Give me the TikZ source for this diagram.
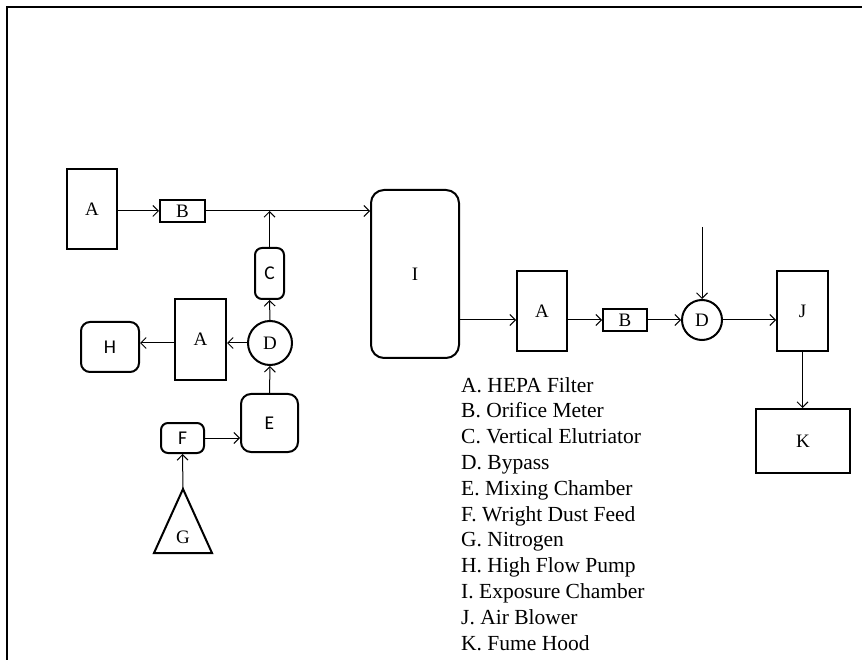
\documentclass[tikz,border=0pt]{standalone}
\usepackage{fontspec}
\setmainfont{Liberation Serif}
\newfontfamily\calfont{Carlito}
\usetikzlibrary{arrows.meta,positioning,calc}

\begin{document}
\begin{tikzpicture}[x=1pt, y=-1pt,
  sqbox/.style={draw, line width=2pt, rectangle, inner sep=0pt, font=\fontsize{19}{20}\selectfont},
  rdbox/.style={draw, line width=2pt, rectangle, rounded corners=7pt, inner sep=0pt, font=\calfont\fontsize{19.5}{21}\selectfont},
  valve/.style={draw, line width=2pt, circle, inner sep=0pt, font=\fontsize{19}{20}\selectfont},
  flow/.style={line width=1pt, -{Straight Barb[length=5.5pt,width=11pt,line width=1pt]}}
]
\useasboundingbox (0,0) rectangle (868,660);
\draw[line width=2.2pt] (7,660) -- (7,7) -- (862,7);

% supply side
\node[sqbox, minimum width=50pt, minimum height=80pt] (filterA1) at (92,209) {A};
\node[sqbox, minimum width=45pt, minimum height=22pt] (meterB1) at (182.5,211) {B};
\node[rdbox, rounded corners=13pt, minimum width=88pt, minimum height=168pt, font=\fontsize{19}{20}\selectfont] (chamberI) at (415,274) {I};
\node[rdbox, minimum width=29pt, minimum height=51pt] (elutC) at (269.5,273.5) {C};
\node[sqbox, minimum width=51pt, minimum height=81pt] (filterA2) at (200.5,339.5) {A};
\node[rdbox, rounded corners=9pt, minimum width=58pt, minimum height=50pt] (pumpH) at (110,347) {H};
\node[valve, minimum size=44pt] (bypassD1) at (270,343) {D};
\node[rdbox, rounded corners=10pt, minimum width=57pt, minimum height=58pt] (mixE) at (269.5,423) {E};
\node[rdbox, minimum width=43pt, minimum height=30pt] (feedF) at (182.5,438) {F};

\coordinate (gasG) at (183,489);
\draw[line width=2pt] (gasG) -- (154,553) -- (212,553) -- cycle;
\node[font=\fontsize{19}{20}\selectfont] (gasGlabel) at (183,537) {G};

% exhaust side
\node[sqbox, minimum width=50pt, minimum height=80pt] (filterA3) at (542,311) {A};
\node[sqbox, minimum width=44pt, minimum height=22pt] (meterB2) at (625,320) {B};
\node[valve, minimum size=40pt] (bypassD2) at (702,320) {D};
\coordinate (bypassIn) at (702,227);
\node[sqbox, minimum width=51pt, minimum height=80pt] (blowerJ) at (802.5,311) {J};
\node[sqbox, minimum width=94pt, minimum height=64pt] (hoodK) at (803,441) {K};

\draw[flow] (filterA1.east |- meterB1.west) -- (meterB1.west);
\draw[flow] (meterB1.east) -- (meterB1.east -| chamberI.west);
\draw[flow] (elutC.north) -- (elutC.north |- meterB1.east);
\draw[flow] (bypassD1.north) -- (elutC.south);
\draw[flow] (bypassD1.west) -- (bypassD1.west -| filterA2.east);
\draw[flow] (filterA2.west |- bypassD1.west) -- (pumpH.east |- bypassD1.west);
\draw[flow] (mixE.north) -- (bypassD1.south);
\draw[flow] (feedF.east) -- (feedF.east -| mixE.west);
\draw[flow] (gasG) -- (feedF.south);

\draw[flow] (chamberI.east |- meterB2.west) -- (filterA3.west |- meterB2.west);
\draw[flow] (filterA3.east |- meterB2.west) -- (meterB2.west);
\draw[flow] (meterB2.east) -- (bypassD2.west);
\draw[flow] (bypassIn) -- (bypassD2.north);
\draw[flow] (bypassD2.east) -- (bypassD2.east -| blowerJ.west);
\draw[flow] (blowerJ.south) -- (blowerJ.south |- hoodK.north);

% legend
\node[anchor=north west, align=left, inner sep=0pt, font=\fontsize{21.5}{25.8}\selectfont] (legend) at (461,377) {A. HEPA Filter\\B. Orifice Meter\\C. Vertical Elutriator\\D. Bypass\\E. Mixing Chamber\\F. Wright Dust Feed\\G. Nitrogen\\H. High Flow Pump\\I. Exposure Chamber\\J. Air Blower\\K. Fume Hood};
\end{tikzpicture}
\end{document}
